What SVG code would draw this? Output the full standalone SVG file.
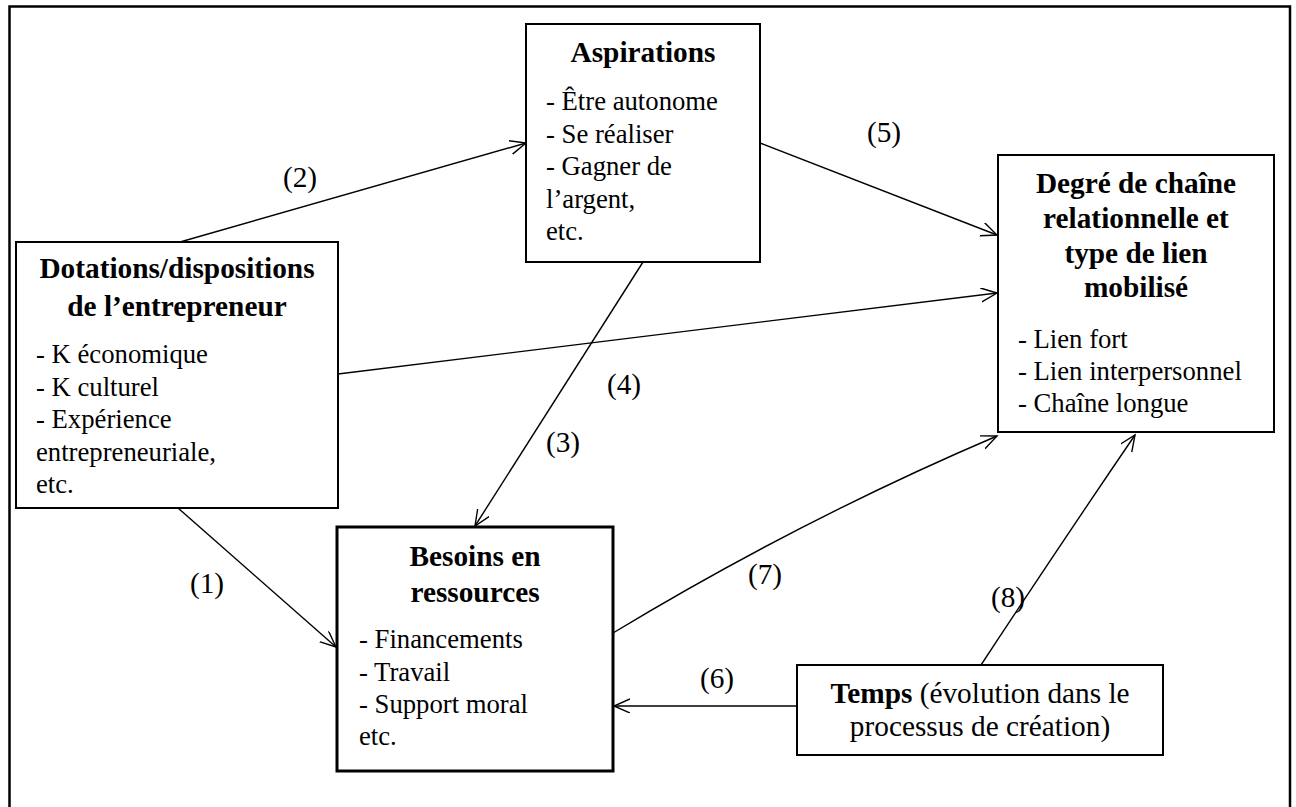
<svg xmlns="http://www.w3.org/2000/svg" width="1296" height="807" viewBox="0 0 1296 807">
<defs>
<style>
.frame{fill:none;stroke:#000;stroke-width:2.5}
.box{fill:#fff;stroke:#000;stroke-width:2}
.boxb{fill:#fff;stroke:#000;stroke-width:3}
.h{font-family:"Liberation Serif","Times New Roman",serif;font-weight:bold;font-size:29.3px;text-anchor:middle;fill:#000}
.t{font-family:"Liberation Serif","Times New Roman",serif;font-size:26.7px;fill:#000}
.tm{font-family:"Liberation Serif","Times New Roman",serif;font-size:29.3px;text-anchor:middle;fill:#000}
.lab{font-family:"Liberation Serif","Times New Roman",serif;font-size:29.3px;text-anchor:middle;fill:#000}
.c{fill:none;stroke:#000;stroke-width:1.4;marker-end:url(#ah)}
</style>
<marker id="ah" markerUnits="userSpaceOnUse" markerWidth="18" markerHeight="16" refX="16" refY="7" orient="auto">
<path d="M0,0 L16,7 L0,14" fill="none" stroke="#000" stroke-width="1.4"/>
</marker>
</defs>
<rect x="0" y="0" width="1296" height="807" fill="#fff"/>
<rect class="frame" x="9.5" y="6.5" width="1280.5" height="810"/>

<g id="connectors">
<line class="c" x1="180" y1="242" x2="526" y2="143"/>
<line class="c" x1="760" y1="143" x2="997" y2="235"/>
<line class="c" x1="338" y1="374" x2="997" y2="293"/>
<line class="c" x1="643" y1="262" x2="475" y2="526"/>
<line class="c" x1="178" y1="508" x2="336" y2="647"/>
<path class="c" d="M613,633 Q800,520 997,436"/>
<line class="c" x1="797" y1="706" x2="614" y2="706"/>
<path class="c" d="M981,665 Q1060,545 1135,435"/>
<text class="lab" x="300" y="187">(2)</text>
<text class="lab" x="884" y="142">(5)</text>
<text class="lab" x="624" y="394">(4)</text>
<text class="lab" x="563" y="452">(3)</text>
<text class="lab" x="207" y="593">(1)</text>
<text class="lab" x="765" y="584">(7)</text>
<text class="lab" x="1008" y="607">(8)</text>
<text class="lab" x="717" y="688">(6)</text>
</g>

<g id="aspirations">
<rect class="box" x="526" y="24" width="234" height="238"/>
<text class="h" x="643" y="62">Aspirations</text>
<text class="t" x="546" y="110">- Être autonome</text>
<text class="t" x="546" y="142.5">- Se réaliser</text>
<text class="t" x="546" y="175">- Gagner de</text>
<text class="t" x="546" y="207.5">l’argent,</text>
<text class="t" x="546" y="240">etc.</text>
</g>

<g id="dotations">
<rect class="box" x="16" y="242" width="322" height="266"/>
<text class="h" x="177" y="278">Dotations/dispositions</text>
<text class="h" x="177" y="316">de l’entrepreneur</text>
<text class="t" x="36" y="363">- K économique</text>
<text class="t" x="36" y="395.5">- K culturel</text>
<text class="t" x="36" y="428">- Expérience</text>
<text class="t" x="36" y="460.5">entrepreneuriale,</text>
<text class="t" x="36" y="493">etc.</text>
</g>

<g id="degre">
<rect class="box" x="998" y="155" width="276" height="277"/>
<text class="h" x="1136" y="193">Degré de chaîne</text>
<text class="h" x="1136" y="228">relationnelle et</text>
<text class="h" x="1136" y="263">type de lien</text>
<text class="h" x="1136" y="297">mobilisé</text>
<text class="t" x="1018" y="348">- Lien fort</text>
<text class="t" x="1018" y="380">- Lien interpersonnel</text>
<text class="t" x="1018" y="412">- Chaîne longue</text>
</g>

<g id="besoins">
<rect class="boxb" x="337" y="527" width="276" height="244"/>
<text class="h" x="475" y="566">Besoins en</text>
<text class="h" x="475" y="602">ressources</text>
<text class="t" x="359" y="648">- Financements</text>
<text class="t" x="359" y="680.5">- Travail</text>
<text class="t" x="359" y="713">- Support moral</text>
<text class="t" x="359" y="745">etc.</text>
</g>

<g id="temps">
<rect class="box" x="797" y="665" width="366" height="90"/>
<text class="tm" x="980" y="703"><tspan font-weight="bold">Temps</tspan> (évolution dans le</text>
<text class="tm" x="980" y="736">processus de création)</text>
</g>
</svg>
